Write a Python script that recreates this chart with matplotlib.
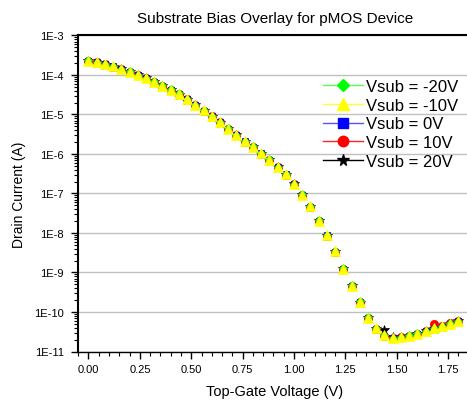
import matplotlib
matplotlib.use('Agg')
import matplotlib.pyplot as plt
from matplotlib.lines import Line2D
from matplotlib.ticker import LogLocator, MultipleLocator, FuncFormatter
import numpy as np

plt.rcParams['font.family'] = ['Liberation Sans', 'DejaVu Sans']

# gate voltage (V), 0 to 1.8 V in 0.04 V steps
vg = [0.00, 0.04, 0.08, 0.12, 0.16, 0.20, 0.24, 0.28, 0.32, 0.36,
      0.40, 0.44, 0.48, 0.52, 0.56, 0.60, 0.64, 0.68, 0.72, 0.76,
      0.80, 0.84, 0.88, 0.92, 0.96, 1.00, 1.04, 1.08, 1.12, 1.16,
      1.20, 1.24, 1.28, 1.32, 1.36, 1.40, 1.44, 1.48, 1.52, 1.56,
      1.60, 1.64, 1.68, 1.72, 1.76, 1.80]

# log10 of drain current (A)
log_id_m20 = [-3.63, -3.67, -3.72, -3.77, -3.84, -3.91, -3.99, -4.07, -4.16, -4.26,
              -4.36, -4.47, -4.61, -4.75, -4.89, -5.04, -5.19, -5.35, -5.51, -5.67,
              -5.81, -5.97, -6.14, -6.32, -6.51, -6.75, -7.02, -7.33, -7.68, -8.05,
              -8.45, -8.89, -9.32, -9.73, -10.13, -10.41, -10.58, -10.65, -10.63, -10.59,
              -10.54, -10.48, -10.41, -10.36, -10.29, -10.22]
log_id_m10 = [-3.64, -3.68, -3.73, -3.78, -3.85, -3.92, -3.99, -4.08, -4.17, -4.27,
              -4.37, -4.48, -4.61, -4.76, -4.90, -5.04, -5.19, -5.36, -5.52, -5.68,
              -5.82, -5.98, -6.15, -6.32, -6.52, -6.75, -7.03, -7.33, -7.69, -8.06,
              -8.46, -8.90, -9.33, -9.74, -10.14, -10.41, -10.58, -10.65, -10.63, -10.60,
              -10.55, -10.48, -10.41, -10.36, -10.30, -10.23]
log_id_0 = [-3.64, -3.68, -3.73, -3.78, -3.85, -3.92, -4.00, -4.08, -4.17, -4.27,
            -4.38, -4.49, -4.62, -4.76, -4.91, -5.05, -5.20, -5.36, -5.52, -5.68,
            -5.82, -5.98, -6.15, -6.33, -6.52, -6.76, -7.03, -7.34, -7.69, -8.06,
            -8.47, -8.90, -9.33, -9.75, -10.14, -10.42, -10.60, -10.67, -10.65, -10.61,
            -10.56, -10.49, -10.42, -10.37, -10.31, -10.24]
log_id_p10 = [-3.64, -3.68, -3.73, -3.79, -3.85, -3.92, -4.00, -4.08, -4.18, -4.28,
              -4.38, -4.49, -4.62, -4.77, -4.91, -5.05, -5.20, -5.37, -5.53, -5.69,
              -5.83, -5.99, -6.16, -6.33, -6.53, -6.76, -7.04, -7.34, -7.70, -8.07,
              -8.47, -8.91, -9.34, -9.75, -10.15, -10.43, -10.60, -10.66, -10.64, -10.60,
              -10.55, -10.47, -10.31, -10.35, -10.29, -10.22]
log_id_p20 = [-3.65, -3.69, -3.74, -3.79, -3.86, -3.93, -4.00, -4.09, -4.18, -4.28,
              -4.39, -4.50, -4.63, -4.77, -4.92, -5.06, -5.21, -5.37, -5.53, -5.69,
              -5.83, -5.99, -6.16, -6.34, -6.53, -6.77, -7.04, -7.35, -7.70, -8.07,
              -8.48, -8.91, -9.34, -9.76, -10.15, -10.42, -10.45, -10.64, -10.63, -10.60,
              -10.55, -10.49, -10.42, -10.37, -10.31, -10.24]

labels = ['Vsub = -20V', 'Vsub = -10V', 'Vsub = 0V', 'Vsub = 10V', 'Vsub = 20V']
colors = ['#00ff00', '#ffff00', '#0000ff', '#ff0000', '#000000']
line_colors = ['#55ff55', '#ffff33', '#5555ff', '#ff2222', '#000000']
markers = ['D', '^', 's', 'o', '*']
sizes = [4.5, 7, 5, 6, 7]
series = [log_id_m20, log_id_m10, log_id_0, log_id_p10, log_id_p20]

fig = plt.figure(figsize=(4.67, 4.02), dpi=100)
W, H = 467.0, 402.0
x0, x1, y0, y1 = 77.5, 472.0, 36.4, 352.5
ax = fig.add_axes([x0 / W, 1 - y1 / H, (x1 - x0) / W, (y1 - y0) / H])

# draw order: yellow on top
for i in [4, 3, 2, 0, 1]:
    ax.plot(vg, 10.0 ** np.array(series[i]), linestyle='none', marker=markers[i],
            ms=sizes[i], mfc=colors[i], mec=colors[i], mew=0.5,
            zorder=4 if i == 1 else 3)

ax.set_yscale('log')
ax.set_ylim(1e-11, 1e-3)
ax.set_xlim(-0.0535, 1.866)

ax.xaxis.set_major_locator(MultipleLocator(0.25))
ax.xaxis.set_minor_locator(MultipleLocator(0.05))
ax.xaxis.set_major_formatter(FuncFormatter(lambda v, p: '%.2f' % v))
ax.yaxis.set_major_locator(LogLocator(base=10, numticks=20))
ax.yaxis.set_minor_locator(LogLocator(base=10, subs=np.arange(2, 10), numticks=20))
ax.yaxis.set_major_formatter(FuncFormatter(lambda v, p: '1E%d' % round(np.log10(v))))

ax.tick_params(which='major', direction='out', length=5, width=1, labelsize=8, pad=4)
ax.tick_params(which='minor', direction='out', length=3, width=0.8)
ax.tick_params(axis='y', which='major', pad=5)

ax.grid(True, which='major', axis='y', color='#c0c0c0', linewidth=1)
ax.set_axisbelow(True)
ax.spines['right'].set_visible(False)
for s in ['left', 'top']:
    ax.spines[s].set_linewidth(1.5)
ax.spines['bottom'].set_linewidth(1.0)

ax.set_title('Substrate Bias Overlay for pMOS Device', fontsize=11, pad=10)
ax.set_xlabel('Top-Gate Voltage (V)', fontsize=10.5)
ax.set_ylabel('Drain Current (A)', fontsize=10)
ax.xaxis.set_label_coords(0.5, (y1 - 385.5) / (y1 - y0))
ax.yaxis.set_label_coords((26.0 - x0) / (x1 - x0), 0.5)

handles = [Line2D([], [], color=line_colors[i], lw=1, marker=markers[i], ms=sizes[i] + 1.5,
                  mfc=colors[i], mec=colors[i]) for i in range(5)]
ax.legend(handles, labels, loc='upper left', frameon=False, fontsize=12,
          bbox_to_anchor=(322.7 / W, 1 - 80.0 / H), bbox_transform=fig.transFigure,
          borderpad=0, borderaxespad=0, handlelength=2.4, handletextpad=0.18,
          labelspacing=0.22)

fig.savefig('out.png', dpi=100)
